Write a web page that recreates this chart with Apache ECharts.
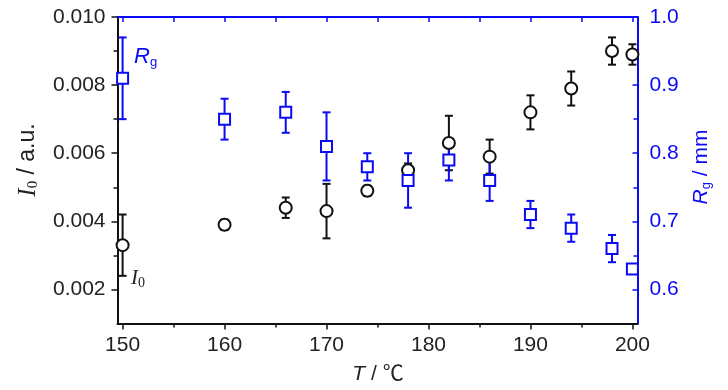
<!DOCTYPE html>
<html>
<head>
<meta charset="utf-8">
<script src="https://cdn.jsdelivr.net/npm/echarts@6/dist/echarts.min.js"></script>
<style>
html,body{margin:0;padding:0;background:#fff;}
#chart{width:728px;height:390px;}
</style>
</head>
<body>
<div id="chart"></div>
<script>
// ---- data ----
const temps     = [150, 160, 166, 170, 174, 178, 182, 186, 190, 194, 198, 200];
const i0Values  = [0.0033, 0.0039, 0.0044, 0.0043, 0.0049, 0.0055, 0.0063, 0.0059, 0.0072, 0.0079, 0.0090, 0.0089];
const i0Errors  = [0.0009, 0.00015, 0.0003, 0.0008, 0.00015, 0.0002, 0.0008, 0.0005, 0.0005, 0.0005, 0.0004, 0.0003];
const rgValues  = [0.91, 0.85, 0.86, 0.81, 0.78, 0.76, 0.79, 0.76, 0.71, 0.69, 0.66, 0.63];
const rgErrors  = [0.06, 0.03, 0.03, 0.05, 0.02, 0.04, 0.03, 0.03, 0.02, 0.02, 0.02, 0.005];

const xMajorTicks  = [150, 160, 170, 180, 190, 200];
const xMinorTicks  = [155, 165, 175, 185, 195];
const xTopTicks    = [150, 155, 160, 165, 170, 175, 180, 185, 190, 195, 200];
const i0Ticks      = [0.002, 0.004, 0.006, 0.008, 0.010];
const i0MinorTicks = [0.003, 0.005, 0.007, 0.009];
const rgTicks      = [0.6, 0.7, 0.8, 0.9, 1.0];
const rgMinorTicks = [0.65, 0.75, 0.85, 0.95];

const BLACK = '#111';
const BLUE = '#0a0af5';
const TXT = '#222';
const SANS = '"Liberation Sans", Arial, sans-serif';
const SERIF = '"Liberation Serif", "Times New Roman", serif';

const chart = echarts.init(document.getElementById('chart'), null, {renderer: 'canvas'});

function errRender(color) {
  return function (params, api) {
    const x = api.value(0), y = api.value(1), e = api.value(2);
    const top = api.coord([x, y + e]);
    const bot = api.coord([x, y - e]);
    const hw = 4;
    const st = {stroke: color, lineWidth: 2};
    return {
      type: 'group',
      children: [
        {type: 'line', shape: {x1: top[0], y1: top[1], x2: bot[0], y2: bot[1]}, style: st},
        {type: 'line', shape: {x1: top[0] - hw, y1: top[1], x2: top[0] + hw, y2: top[1]}, style: st},
        {type: 'line', shape: {x1: bot[0] - hw, y1: bot[1], x2: bot[0] + hw, y2: bot[1]}, style: st}
      ]
    };
  };
}

const xMin = 149.5, xMax = 200.5;

const option = {
  animation: false,
  backgroundColor: '#fff',
  grid: {left: 117.5, right: 90.5, top: 17, bottom: 66.5, containLabel: false},
  xAxis: [
    {
      type: 'value', position: 'bottom', min: xMin, max: xMax,
      axisLine: {show: true, onZero: false, lineStyle: {color: BLACK, width: 2}},
      axisTick: {show: true, customValues: xMajorTicks, inside: false, length: 6, lineStyle: {color: BLACK, width: 1.5}},
      axisLabel: {show: true, customValues: xMajorTicks, fontSize: 21, color: TXT, margin: 11, fontFamily: SANS},
      splitLine: {show: false}
    },
    {
      type: 'value', position: 'bottom', min: xMin, max: xMax,
      axisLine: {show: false, onZero: false},
      axisTick: {show: true, customValues: xMinorTicks, inside: false, length: 4, lineStyle: {color: BLACK, width: 1.5}},
      axisLabel: {show: false},
      splitLine: {show: false}
    },
    {
      type: 'value', position: 'top', min: xMin, max: xMax,
      axisLine: {show: true, onZero: false, lineStyle: {color: BLUE, width: 2}},
      axisTick: {show: true, customValues: xTopTicks, inside: true, length: 5, lineStyle: {color: BLUE, width: 1.5}},
      axisLabel: {show: false},
      splitLine: {show: false}
    }
  ],
  yAxis: [
    {
      type: 'value', position: 'left', min: 0.001, max: 0.010,
      axisLine: {show: true, onZero: false, lineStyle: {color: BLACK, width: 2}},
      axisTick: {show: true, customValues: i0Ticks, inside: false, length: 6, lineStyle: {color: BLACK, width: 1.5}},
      axisLabel: {show: true, customValues: i0Ticks, fontSize: 21, color: TXT, margin: 12, fontFamily: SANS,
        formatter: v => Number(v).toFixed(3)},
      splitLine: {show: false}
    },
    {
      type: 'value', position: 'left', min: 0.001, max: 0.010,
      axisLine: {show: false, onZero: false},
      axisTick: {show: true, customValues: i0MinorTicks, inside: false, length: 4, lineStyle: {color: BLACK, width: 1.5}},
      axisLabel: {show: false},
      splitLine: {show: false}
    },
    {
      type: 'value', position: 'right', min: 0.55, max: 1.0,
      axisLine: {show: true, onZero: false, lineStyle: {color: BLUE, width: 2}},
      axisTick: {show: true, customValues: rgTicks, inside: true, length: 5, lineStyle: {color: BLUE, width: 1.5}},
      axisLabel: {show: true, customValues: rgTicks, fontSize: 21, color: BLUE, margin: 12, fontFamily: SANS,
        formatter: v => Number(v).toFixed(1)},
      splitLine: {show: false}
    },
    {
      type: 'value', position: 'right', min: 0.55, max: 1.0,
      axisLine: {show: false, onZero: false},
      axisTick: {show: true, customValues: rgMinorTicks, inside: true, length: 4, lineStyle: {color: BLUE, width: 1.5}},
      axisLabel: {show: false},
      splitLine: {show: false}
    }
  ],
  series: [
    {
      type: 'custom', name: 'I0 err', xAxisIndex: 0, yAxisIndex: 0,
      renderItem: errRender(BLACK),
      encode: {x: 0, y: 1},
      data: temps.map((t, i) => [t, i0Values[i], i0Errors[i]])
    },
    {
      type: 'scatter', name: 'I0', xAxisIndex: 0, yAxisIndex: 0,
      symbol: 'circle', symbolSize: 12,
      itemStyle: {color: '#fff', borderColor: BLACK, borderWidth: 2, opacity: 1},
      data: temps.map((t, i) => [t, i0Values[i]])
    },
    {
      type: 'custom', name: 'Rg err', xAxisIndex: 0, yAxisIndex: 2,
      renderItem: errRender(BLUE),
      encode: {x: 0, y: 1},
      data: temps.map((t, i) => [t, rgValues[i], rgErrors[i]])
    },
    {
      type: 'scatter', name: 'Rg', xAxisIndex: 0, yAxisIndex: 2,
      symbol: 'rect', symbolSize: 11,
      itemStyle: {color: '#fff', borderColor: BLUE, borderWidth: 2, opacity: 1},
      data: temps.map((t, i) => [t, rgValues[i]])
    }
  ],
  graphic: [
    {
      type: 'text', x: 28, y: 160, rotation: Math.PI / 2,
      style: {
        text: '{i|I}{s|0}{n| / a.u.}', fill: TXT, align: 'center', verticalAlign: 'middle',
        rich: {
          i: {fontFamily: SERIF, fontStyle: 'italic', fontSize: 25, fill: TXT, lineHeight: 28, verticalAlign: 'middle'},
          s: {fontFamily: SERIF, fontSize: 15, fill: TXT, lineHeight: 28, padding: [11, 0, 0, 0], verticalAlign: 'middle'},
          n: {fontFamily: SANS, fontSize: 23, fill: TXT, lineHeight: 28, verticalAlign: 'middle'}
        }
      }
    },
    {
      type: 'text', x: 701, y: 167, rotation: Math.PI / 2,
      style: {
        text: '{i|R}{s|g}{n| / mm}', fill: BLUE, align: 'center', verticalAlign: 'middle',
        rich: {
          i: {fontFamily: SANS, fontStyle: 'italic', fontSize: 21, fill: BLUE, lineHeight: 26, verticalAlign: 'middle'},
          s: {fontFamily: SANS, fontSize: 13, fill: BLUE, lineHeight: 26, padding: [10, 0, 0, 0], verticalAlign: 'middle'},
          n: {fontFamily: SANS, fontSize: 21, fill: BLUE, lineHeight: 26, verticalAlign: 'middle'}
        }
      }
    },
    {
      type: 'text', x: 378, y: 374,
      style: {
        text: '{i|T}{n| / ℃}', fill: TXT, align: 'center', verticalAlign: 'middle',
        rich: {
          i: {fontFamily: SANS, fontStyle: 'italic', fontSize: 21, fill: TXT, lineHeight: 26},
          n: {fontFamily: SANS + ', "Noto Sans CJK SC"', fontSize: 21, fill: TXT, lineHeight: 26}
        }
      }
    },
    {
      type: 'text', x: 134, y: 57,
      style: {
        text: '{i|R}{s|g}', fill: BLUE, align: 'left', verticalAlign: 'middle',
        rich: {
          i: {fontFamily: SANS, fontStyle: 'italic', fontSize: 22, fill: BLUE, lineHeight: 26, verticalAlign: 'middle'},
          s: {fontFamily: SANS, fontSize: 13, fill: BLUE, lineHeight: 26, padding: [10, 0, 0, 0], verticalAlign: 'middle'}
        }
      }
    },
    {
      type: 'text', x: 131, y: 278,
      style: {
        text: '{i|I}{s|0}', fill: TXT, align: 'left', verticalAlign: 'middle',
        rich: {
          i: {fontFamily: SERIF, fontStyle: 'italic', fontSize: 21, fill: TXT, lineHeight: 26, verticalAlign: 'middle'},
          s: {fontFamily: SERIF, fontSize: 14, fill: TXT, lineHeight: 26, padding: [10, 0, 0, 0], verticalAlign: 'middle'}
        }
      }
    }
  ]
};

chart.setOption(option);
</script>
</body>
</html>
